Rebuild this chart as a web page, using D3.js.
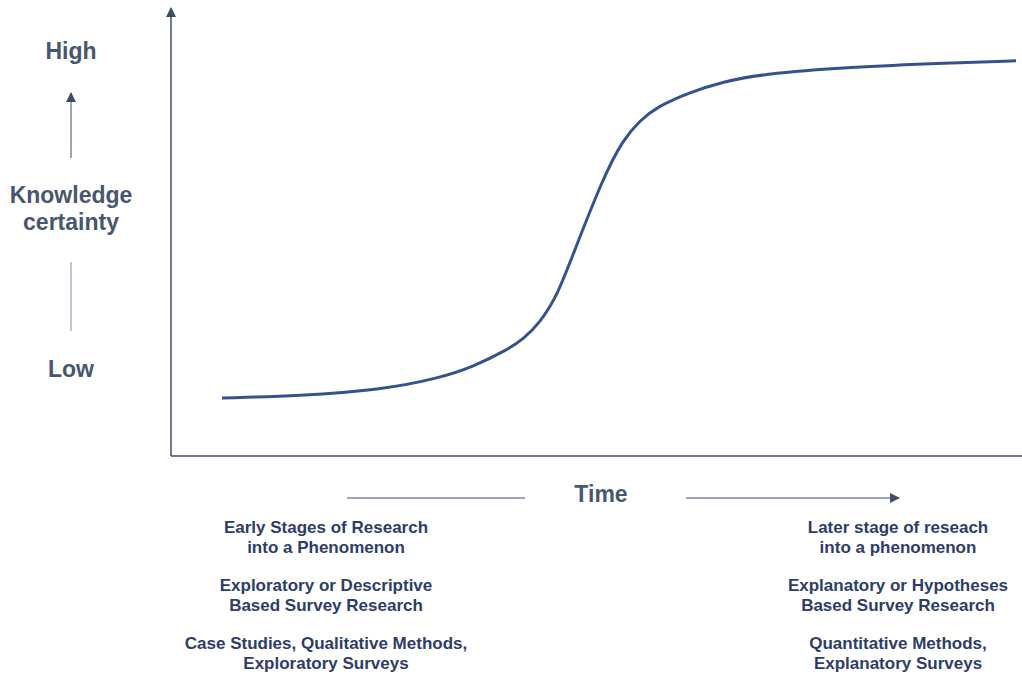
<!DOCTYPE html>
<html>
<head>
<meta charset="utf-8">
<script src="https://cdn.jsdelivr.net/npm/d3@7"></script>
<style>
  body { margin: 0; background: #fff; }
  svg text { font-family: "Liberation Sans", Arial, sans-serif; font-weight: bold; }
</style>
</head>
<body>
<div id="chart"></div>
<script>
// --- DATOS ---
// tiempo (0..1) y certeza del conocimiento (0..1)
const timeVals = [0.060, 0.152, 0.246, 0.316, 0.355, 0.395, 0.414, 0.434, 0.454, 0.472, 0.508, 0.531, 0.551, 0.571, 0.610, 0.649, 0.692, 0.798, 0.915, 0.993];
const certaintyVals = [0.130, 0.135, 0.148, 0.175, 0.200, 0.238, 0.262, 0.300, 0.360, 0.450, 0.625, 0.709, 0.752, 0.783, 0.816, 0.839, 0.856, 0.872, 0.881, 0.886];

const yLabels = ["High", "Knowledge", "certainty", "Low"];
const xLabel = "Time";
const leftNotes = ["Early Stages of Research", "into a Phenomenon", "Exploratory or Descriptive", "Based Survey Research", "Case Studies, Qualitative Methods,", "Exploratory Surveys"];
const rightNotes = ["Later stage of reseach", "into a phenomenon", "Explanatory or Hypotheses", "Based Survey Research", "Quantitative Methods,", "Explanatory Surveys"];

const data = timeVals.map((t, i) => ({ t: t, c: certaintyVals[i] }));

// --- CONFIGURACIÓN ---
const W = 1022, H = 676;
const axisColor = "#3f4d6d";
const labelColor = "#48566f";
const noteColor = "#2d3d68";
const curveColor = "#35528f";

const svg = d3.select("#chart").append("svg")
    .attr("width", W).attr("height", H);

const defs = svg.append("defs");
defs.append("marker")
    .attr("id", "arrow")
    .attr("viewBox", "0 0 10 10")
    .attr("refX", 9).attr("refY", 5)
    .attr("markerWidth", 10).attr("markerHeight", 10)
    .attr("markerUnits", "userSpaceOnUse")
    .attr("orient", "auto")
    .append("path").attr("d", "M0,0 L10,5 L0,10 Z").attr("fill", axisColor);

const x = d3.scaleLinear().domain([0, 1]).range([171, 1022]);
const y = d3.scaleLinear().domain([0, 1]).range([456, 10]);

// Ejes (solo líneas, sin ticks)
svg.append("line")
    .attr("x1", x(0)).attr("x2", x(1))
    .attr("y1", y(0)).attr("y2", y(0))
    .attr("stroke", axisColor).attr("stroke-width", 1.5);
svg.append("line")
    .attr("x1", x(0)).attr("x2", x(0))
    .attr("y1", y(0)).attr("y2", y(1) - 2)
    .attr("stroke", axisColor).attr("stroke-width", 1.5)
    .attr("marker-end", "url(#arrow)");

// Curva S (basis para suavizar los puntos leídos)
const line = d3.line()
    .x(d => x(d.t))
    .y(d => y(d.c))
    .curve(d3.curveBasis);

svg.append("path")
    .datum(data)
    .attr("fill", "none")
    .attr("stroke", curveColor)
    .attr("stroke-width", 3)
    .attr("d", line);

// Etiquetas eje Y
const yLabelY = [59, 203, 230, 377];
yLabels.forEach((t, i) => {
    svg.append("text").attr("x", 71).attr("y", yLabelY[i])
        .attr("text-anchor", "middle").attr("fill", labelColor)
        .style("font-size", "23px").text(t);
});
svg.append("line").attr("x1", 71).attr("x2", 71).attr("y1", 158).attr("y2", 93)
    .attr("stroke", axisColor).attr("stroke-width", 1)
    .attr("marker-end", "url(#arrow)");
svg.append("line").attr("x1", 71).attr("x2", 71).attr("y1", 262).attr("y2", 331)
    .attr("stroke", "#7f8fab").attr("stroke-width", 1);

// Etiqueta tiempo
svg.append("text").attr("x", 601).attr("y", 502)
    .attr("text-anchor", "middle").attr("fill", labelColor)
    .style("font-size", "23px").text(xLabel);
svg.append("line").attr("x1", 347).attr("x2", 525).attr("y1", 498).attr("y2", 498)
    .attr("stroke", axisColor).attr("stroke-width", 1);
svg.append("line").attr("x1", 686).attr("x2", 899).attr("y1", 498).attr("y2", 498)
    .attr("stroke", axisColor).attr("stroke-width", 1)
    .attr("marker-end", "url(#arrow)");

// Notas inferiores
const noteY = [533, 553, 591, 611, 649, 669];
function drawNotes(notes, cx) {
    svg.append("g").selectAll("text")
        .data(notes)
        .join("text")
        .attr("x", cx)
        .attr("y", (d, i) => noteY[i])
        .attr("text-anchor", "middle")
        .attr("fill", noteColor)
        .style("font-size", "17px")
        .text(d => d);
}
drawNotes(leftNotes, 326);
drawNotes(rightNotes, 898);
</script>
</body>
</html>
